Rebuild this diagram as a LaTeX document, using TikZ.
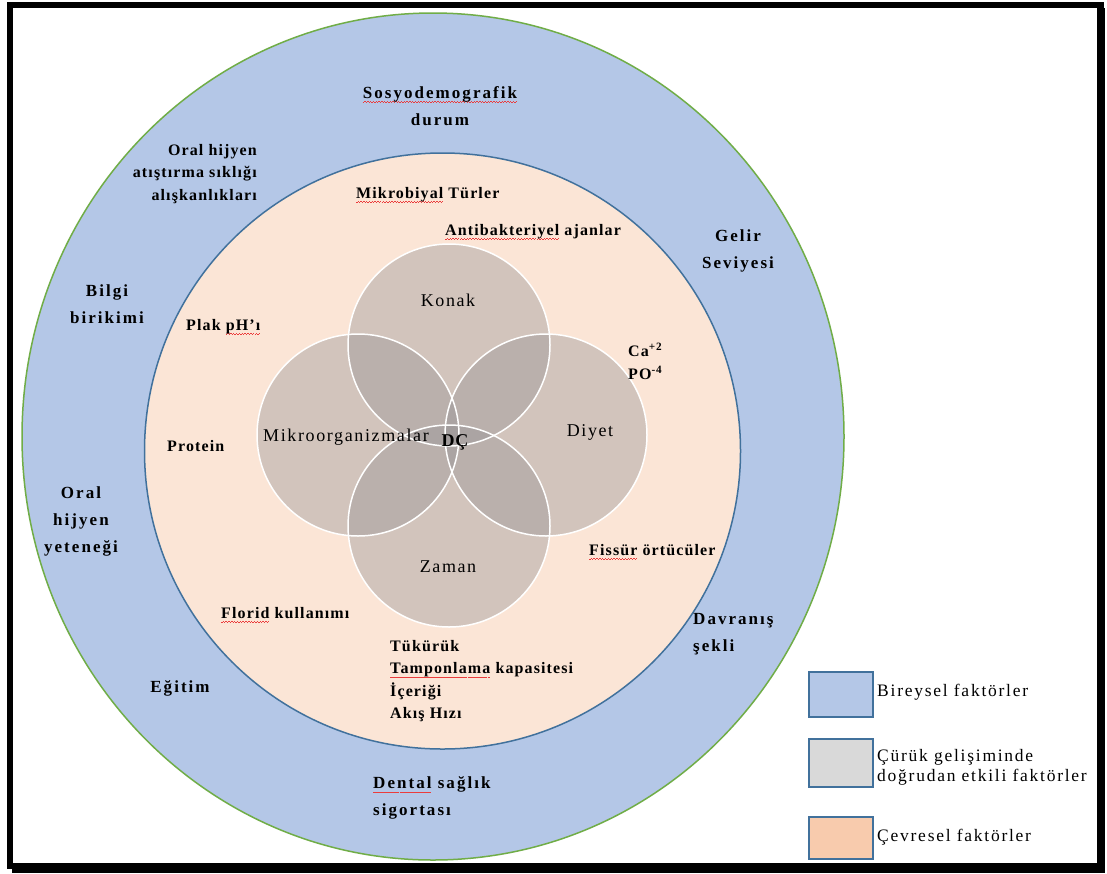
\documentclass[tikz,border=0pt]{standalone}
\usepackage{fontspec}
\setmainfont{Liberation Serif}
\usepackage{xcolor}
\definecolor{spellred}{RGB}{235,60,60}
\definecolor{bluefill}{RGB}{180,199,231}
\definecolor{greenline}{RGB}{112,173,71}
\definecolor{blueline}{RGB}{65,113,156}
\definecolor{peach}{RGB}{251,229,214}
\definecolor{circgray}{RGB}{150,148,150}
\definecolor{leggray}{RGB}{217,217,217}
\definecolor{legpeach}{RGB}{248,203,173}
\newcommand\wavepiece{\hbox{\rule[-4.6pt]{1.4pt}{0.8pt}\rule[-3.8pt]{1.4pt}{0.8pt}}}
\newcommand\redwave[1]{\setbox0=\hbox{#1}\rlap{\color{spellred}\hbox to \wd0{\xleaders\wavepiece\hfill}}\box0\relax}
\begin{document}
\begin{tikzpicture}[x=1pt,y=-1pt,
  outerlbl/.style={font=\fontsize{17}{27}\selectfont\bfseries\addfontfeatures{LetterSpace=12}, inner sep=0, align=center},
  innerlbl/.style={font=\fontsize{16}{22.5}\selectfont\bfseries\addfontfeatures{LetterSpace=7}, inner sep=0},
  circlbl/.style={font=\fontsize{18}{20}\selectfont\addfontfeatures{LetterSpace=9}, inner sep=0},
  leglbl/.style={font=\fontsize{17.5}{20}\selectfont\addfontfeatures{LetterSpace=10}, inner sep=0, anchor=west, align=left},
  graycirc/.style={fill=circgray, fill opacity=0.4},
  whiteedge/.style={draw=white, line width=1.5pt},
  legbox/.style={draw=blueline, line width=1.5pt}
]
\useasboundingbox (0,0) rectangle (1107,873);
\fill[white] (0,0) rectangle (1107,873);
% frame
\draw[line width=6pt] (9.5,4.5) rectangle (1100.5,866);
\fill[black] (12,863) rectangle (1105,873);
\fill[black] (1097,8) rectangle (1105,873);
% outer and inner circles
\draw[fill=bluefill, draw=greenline, line width=1.5pt] (433,436.5) ellipse[x radius=411, y radius=423.5];
\draw[fill=peach, draw=blueline, line width=1.5pt] (442.5,451) circle[radius=298];
% four circles
\fill[graycirc] (449,345) circle[radius=101];
\fill[graycirc] (358,435) circle[radius=101];
\fill[graycirc] (546,435) circle[radius=101];
\fill[graycirc] (449,526) circle[radius=101];
\draw[whiteedge] (449,345) circle[radius=101];
\draw[whiteedge] (358,435) circle[radius=101];
\draw[whiteedge] (546,435) circle[radius=101];
\draw[whiteedge] (449,526) circle[radius=101];
% circle labels
\node[circlbl] (konak) at (448,300) {Konak};
\node[circlbl] (mikro) at (346,437) {Mikroorganizmalar};
\node[circlbl] (diyet) at (590,432) {Diyet};
\node[circlbl] (zaman) at (448,567) {Zaman};
\node[circlbl, font=\fontsize{18}{20}\selectfont\bfseries\addfontfeatures{LetterSpace=5}] (dc) at (455,442) {DÇ};
% outer labels
\node[outerlbl] (sos) at (440,106) {\redwave{Sosyodemografik}\\durum};
\node[outerlbl] (bilgi) at (107,304) {Bilgi\\birikimi};
\node[outerlbl] (oralyet) at (81,521) {Oral\\hijyen\\yeteneği};
\node[outerlbl] (egitim) at (180,688) {Eğitim};
\node[outerlbl, anchor=west, align=left] (dental) at (373,798) {\redwave{Dental} sağlık\\sigortası};
\node[outerlbl, anchor=west, align=left] (davranis) at (693,634) {Davranış\\şekli};
\node[outerlbl] (gelir) at (738,251) {Gelir\\Seviyesi};
% inner labels
\node[innerlbl, anchor=east, align=right] (oralhij) at (257,174) {Oral hijyen\\atıştırma sıklığı\\alışkanlıkları};
\node[innerlbl, anchor=west] (mikrob) at (356,195) {\redwave{Mikrobiyal} Türler};
\node[innerlbl, anchor=west] (antib) at (445,232) {\redwave{Antibakteriyel} ajanlar};
\node[innerlbl, anchor=west] (plak) at (186,327) {Plak \redwave{pH’ı}};
\node[innerlbl, anchor=west] (protein) at (167,446) {Protein};
\node[innerlbl, anchor=west, align=left, font=\fontsize{16}{23}\selectfont\bfseries\addfontfeatures{LetterSpace=7}] (ca) at (628,361) {Ca\textsuperscript{+2}\\PO\textsuperscript{-4}};
\node[innerlbl, anchor=west] (fissur) at (589,552) {\redwave{Fissür} örtücüler};
\node[innerlbl, anchor=west] (florid) at (221,615) {\redwave{Florid} kullanımı};
\node[innerlbl, anchor=west, align=left] (tukuruk) at (390,681) {Tükürük\\\redwave{Tamponlama} kapasitesi\\İçeriği\\Akış Hızı};
% legend
\draw[legbox, fill=bluefill] (809,672) rectangle (873,717);
\draw[legbox, fill=leggray] (809,739) rectangle (873,787);
\draw[legbox, fill=legpeach] (809,817) rectangle (873,859);
\node[leglbl] (legb) at (877,692) {Bireysel faktörler};
\node[leglbl] (legg) at (877,767) {Çürük gelişiminde\\doğrudan etkili faktörler};
\node[leglbl] (legp) at (877,837) {Çevresel faktörler};
\end{tikzpicture}
\end{document}
